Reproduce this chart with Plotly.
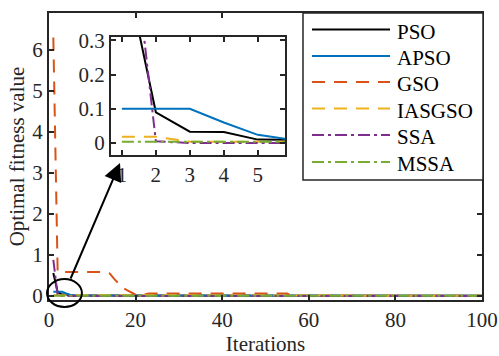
import plotly.graph_objects as go

# ---- data ----
names = ["PSO", "APSO", "GSO", "IASGSO", "SSA", "MSSA"]
colors = ["#000000", "#0072BD", "#D95319", "#EDB120", "#7E2F8E", "#77AC30"]
dashes = ["solid", "solid", "13px,9px", "13px,9px", "12px,4px,3px,4px", "12px,4px,3px,4px"]

pso_x = [1, 2, 3, 4, 5, 6, 100]
pso_y = [0.56, 0.09, 0.033, 0.032, 0.01, 0.008, 0.004]
apso_x = [1, 2, 3, 4, 5, 6, 100]
apso_y = [0.10, 0.10, 0.10, 0.06, 0.024, 0.01, 0.004]
gso_x = [1, 2, 13, 14, 15, 16, 17, 18, 19, 20, 22, 23, 55, 56, 100]
gso_y = [6.3, 0.58, 0.58, 0.55, 0.42, 0.3, 0.2, 0.14, 0.09, 0.03, 0.03, 0.06, 0.06, 0.005, 0.005]
iasgso_x = [1, 2, 3, 100]
iasgso_y = [0.018, 0.018, 0.004, 0.002]
ssa_x = [1, 2, 3, 100]
ssa_y = [0.88, 0.005, 0.0, 0.0]
mssa_x = [1, 2, 3, 100]
mssa_y = [0.004, 0.004, 0.003, 0.002]

xs = [pso_x, apso_x, gso_x, iasgso_x, ssa_x, mssa_x]
ys = [pso_y, apso_y, gso_y, iasgso_y, ssa_y, mssa_y]

main_xticks = [0, 20, 40, 60, 80, 100]
main_yticks = [0, 1, 2, 3, 4, 5, 6]
main_xrange = [0, 100]
main_yrange = [-0.1, 6.9]
inset_xticks = [1, 2, 3, 4, 5]
inset_yticks = [0, 0.1, 0.2, 0.3]
inset_xrange = [0.68, 5.8]
inset_yrange = [-0.035, 0.31]

# ellipse (data coords of the main axes)
ell_x = [-0.46, 7.6]
ell_y = [-0.27, 0.41]

FONT = "Liberation Serif"
FS = 21
AXC = "#262626"

fig = go.Figure()
for n, c, d, x, y in zip(names, colors, dashes, xs, ys):
    fig.add_trace(go.Scatter(x=x, y=y, mode="lines", name=n, showlegend=False,
                             line=dict(color=c, width=2, dash=d),
                             xaxis="x", yaxis="y"))
for n, c, d, x, y in zip(names, colors, dashes, xs, ys):
    fig.add_trace(go.Scatter(x=x, y=y, mode="lines", name=n, showlegend=False,
                             line=dict(color=c, width=2, dash=d),
                             xaxis="x2", yaxis="y2"))

axis_common = dict(showline=True, linecolor=AXC, linewidth=2, mirror="ticks",
                   ticks="inside", ticklen=5, tickwidth=2, tickcolor=AXC,
                   showgrid=False, zeroline=False, automargin=False,
                   tickfont=dict(family=FONT, size=FS, color=AXC))

ML, MR, MT, MB = 49, 17, 13, 56
W, H = 499, 356
pw, ph = W - ML - MR, H - MT - MB

def px_x(px):
    return (px - ML) / pw

def px_y(py):
    return (H - MB - py) / ph

fig.update_layout(
    width=W, height=H,
    margin=dict(l=ML, r=MR, t=MT, b=MB),
    plot_bgcolor="white", paper_bgcolor="white",
    font=dict(family=FONT, size=FS, color=AXC),
    xaxis=dict(range=main_xrange, tickvals=main_xticks, domain=[0, 1],
               title=dict(text="Iterations", font=dict(family=FONT, size=FS), standoff=2),
               **axis_common),
    yaxis=dict(range=main_yrange, tickvals=main_yticks, domain=[0, 1],
               title=dict(text="Optimal fitness value", font=dict(family=FONT, size=FS), standoff=2),
               **axis_common),
    xaxis2=dict(range=inset_xrange, tickvals=inset_xticks, anchor="y2",
                domain=[px_x(111), px_x(285)], **axis_common),
    yaxis2=dict(range=inset_yrange, tickvals=inset_yticks, anchor="x2",
                domain=[px_y(155), px_y(37)], **axis_common),
    showlegend=False,
)

def dx(v):
    return (v - main_xrange[0]) / (main_xrange[1] - main_xrange[0])

def dy(v):
    return (v - main_yrange[0]) / (main_yrange[1] - main_yrange[0])

# zoom ellipse
fig.add_shape(type="circle", xref="paper", yref="paper",
              x0=dx(ell_x[0]), x1=dx(ell_x[1]), y0=dy(ell_y[0]), y1=dy(ell_y[1]),
              line=dict(color="black", width=2))

# arrow to inset
fig.add_annotation(xref="paper", yref="paper", x=px_x(120), y=px_y(163),
                   ax=-50, ay=117, axref="pixel", ayref="pixel",
                   text="", showarrow=True, arrowhead=2, arrowsize=1.8,
                   arrowwidth=2, arrowcolor="black")

# legend box (drawn manually for MATLAB-like spacing)
fig.add_shape(type="rect", xref="paper", yref="paper",
              x0=px_x(303), x1=px_x(483), y0=px_y(180), y1=px_y(13),
              fillcolor="white", line=dict(color=AXC, width=1.5), layer="above")
leg_rows = [29.5, 56, 82, 108.5, 135, 162]
for n, c, d, row in zip(names, colors, dashes, leg_rows):
    fig.add_shape(type="line", xref="paper", yref="paper",
                  x0=px_x(312), x1=px_x(390), y0=px_y(row), y1=px_y(row),
                  line=dict(color=c, width=2, dash=d), layer="above")
    fig.add_annotation(xref="paper", yref="paper", x=px_x(395), y=px_y(row + 2),
                       text=n, showarrow=False, xanchor="left", yanchor="middle",
                       font=dict(family=FONT, size=FS, color="black"))

fig.write_html("out.html")
